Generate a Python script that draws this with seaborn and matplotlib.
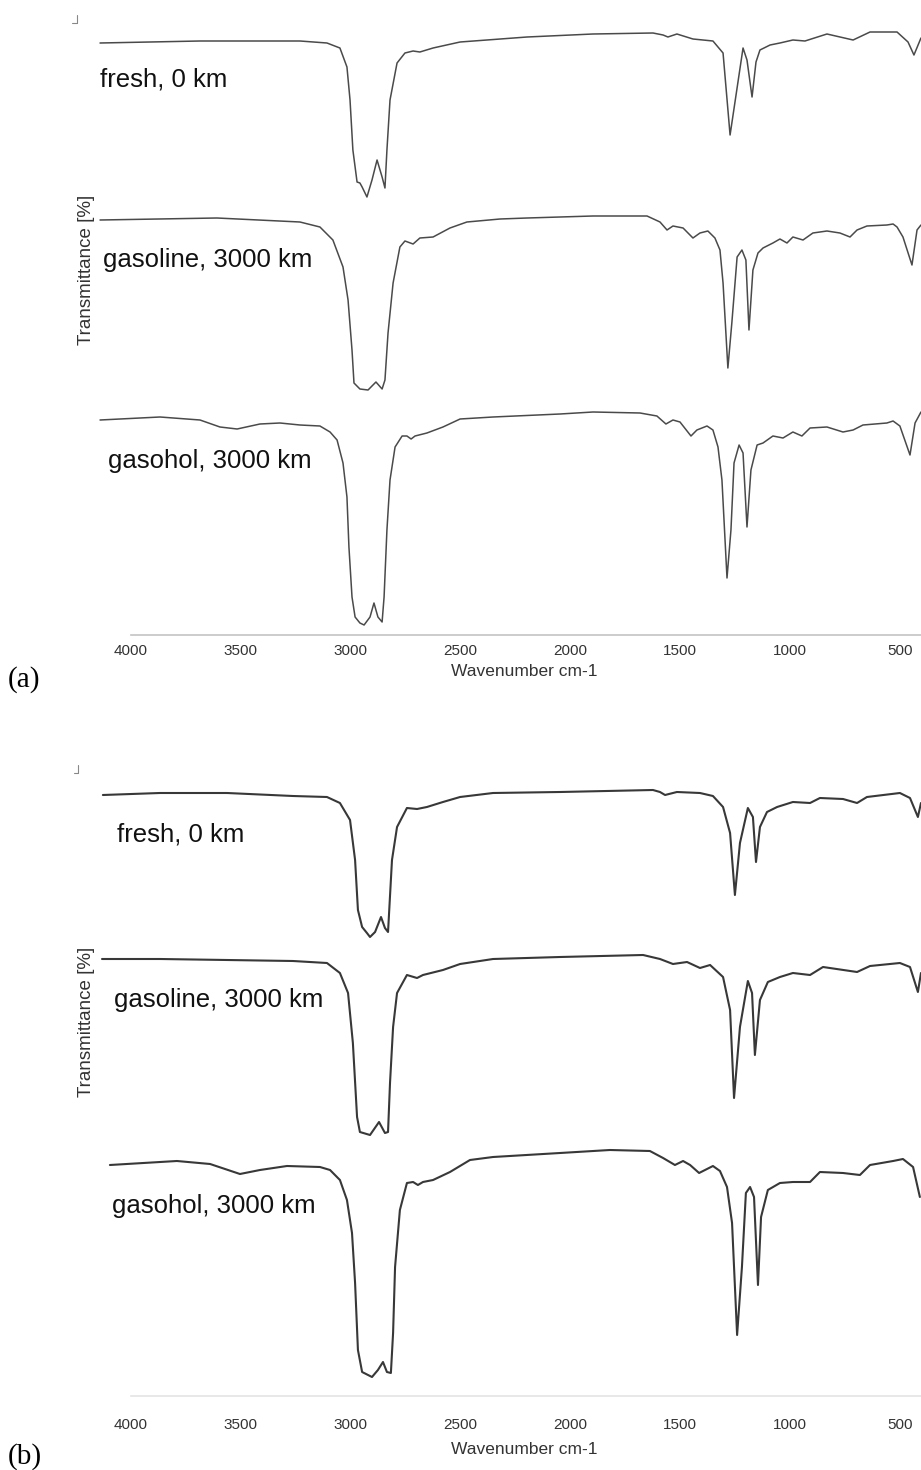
import matplotlib
matplotlib.use("Agg")
import matplotlib.pyplot as plt
from matplotlib import font_manager
from matplotlib.lines import Line2D
import seaborn as sns
import pandas as pd

# ---------------- data ----------------
TICKS = [4000, 3500, 3000, 2500, 2000, 1500, 1000, 500]
TICK_LABELS = ["4000", "3500", "3000", "2500", "2000", "1500", "1000", "500"]
LABELS = ["fresh, 0 km", "gasoline, 3000 km", "gasohol, 3000 km"]

A_FRESH_W = [4141, 3686, 3231, 3108, 3049, 3017, 3003, 2990, 2971, 2958, 2948, 2926, 2903, 2880, 2857,
             2844, 2835, 2821, 2789, 2753, 2716, 2685, 2625, 2502, 2197, 1897, 1624, 1578, 1556, 1515,
             1442, 1351, 1305, 1273, 1214, 1196, 1173, 1155, 1137, 1091, 1046, 987, 932, 832, 713,
             636, 513, 463, 436, 404]
A_FRESH_T = [93.6, 94.4, 94.4, 93.6, 91.6, 84.0, 70.8, 50.8, 38.0, 37.6, 36.0, 32.0, 38.8, 46.8, 40.0,
             35.6, 50.8, 70.8, 85.6, 89.6, 90.4, 90.0, 91.6, 94.0, 96.0, 97.2, 97.6, 96.8, 96.0, 97.2,
             95.2, 94.4, 89.6, 56.8, 91.6, 86.8, 72.0, 86.0, 90.8, 92.8, 93.6, 94.8, 94.4, 97.2, 94.8,
             98.0, 98.0, 94.0, 88.8, 95.6]

A_GASOLINE_W = [4141, 3609, 3231, 3140, 3081, 3035, 3012, 2994, 2985, 2958, 2921, 2885, 2857, 2844, 2830,
                2807, 2776, 2753, 2716, 2685, 2625, 2548, 2471, 2320, 2197, 1897, 1651, 1592, 1560, 1533,
                1487, 1442, 1410, 1374, 1342, 1319, 1305, 1283, 1265, 1241, 1219, 1201, 1187, 1169, 1146,
                1123, 1078, 1046, 1014, 987, 941, 896, 832, 773, 727, 695, 650, 559, 531, 513,
                486, 445, 422, 404]
A_GASOLINE_T = [95.2, 96.0, 94.4, 92.4, 87.2, 76.4, 63.2, 43.2, 30.0, 27.6, 27.2, 30.4, 27.6, 31.2, 50.0,
                70.0, 84.4, 86.8, 85.6, 88.0, 88.4, 92.0, 94.4, 95.6, 96.0, 96.8, 96.8, 94.4, 91.2, 92.8,
                92.0, 88.0, 90.0, 90.8, 88.0, 83.2, 70.0, 36.0, 54.0, 80.4, 83.2, 79.2, 51.2, 75.2, 82.0,
                84.0, 86.0, 87.6, 86.0, 88.4, 87.2, 90.0, 90.8, 90.0, 88.4, 91.2, 92.8, 93.2, 93.6, 92.4,
                88.4, 77.2, 91.2, 93.2]

A_GASOHOL_W = [4141, 3868, 3686, 3595, 3517, 3413, 3322, 3231, 3140, 3094, 3062, 3035, 3017, 3008, 2994,
               2980, 2958, 2939, 2912, 2894, 2876, 2857, 2848, 2835, 2821, 2798, 2766, 2744, 2725, 2707,
               2653, 2580, 2502, 2352, 2047, 1897, 1683, 1606, 1565, 1533, 1501, 1451, 1424, 1378, 1351,
               1328, 1310, 1287, 1269, 1255, 1232, 1214, 1196, 1178, 1150, 1123, 1078, 1032, 987, 946,
               909, 832, 759, 713, 668, 559, 531, 500, 454, 431, 404]
A_GASOHOL_T = [94.0, 95.2, 94.0, 91.2, 90.4, 92.4, 92.8, 92.0, 91.6, 89.2, 86.0, 76.8, 63.2, 43.2, 23.2,
               15.2, 12.8, 12.0, 15.2, 20.8, 15.2, 13.2, 23.2, 50.0, 70.0, 83.2, 87.6, 87.6, 86.4, 87.6,
               88.8, 91.2, 94.4, 95.2, 96.4, 97.2, 96.8, 95.6, 92.4, 94.0, 93.2, 87.6, 90.0, 91.6, 90.0,
               83.2, 70.0, 30.8, 50.0, 76.8, 84.0, 80.8, 51.2, 74.0, 84.0, 84.8, 87.6, 86.8, 89.2, 87.6,
               90.8, 91.2, 89.2, 90.0, 92.0, 92.8, 93.6, 91.6, 80.0, 92.8, 97.2]

B_FRESH_W = [4128, 3868, 3563, 3263, 3108, 3049, 3003, 2980, 2967, 2948, 2926, 2912, 2889, 2862, 2844,
             2830, 2812, 2789, 2744, 2698, 2653, 2580, 2502, 2352, 2047, 1624, 1592, 1569, 1515, 1410,
             1351, 1305, 1273, 1251, 1228, 1192, 1169, 1155, 1137, 1105, 1059, 987, 909, 864, 759,
             695, 650, 500, 454, 418, 404]
B_FRESH_T = [95.6, 96.4, 96.4, 95.2, 94.8, 92.4, 85.6, 69.6, 49.6, 42.8, 40.4, 38.8, 40.8, 46.8, 42.4,
             40.8, 69.6, 82.8, 90.4, 90.0, 90.8, 92.8, 94.8, 96.4, 96.8, 97.6, 96.8, 95.6, 96.8, 96.4,
             95.2, 90.8, 80.4, 55.6, 76.4, 90.4, 86.8, 68.8, 82.8, 88.8, 90.8, 92.8, 92.4, 94.4, 94.0,
             92.4, 94.8, 96.4, 94.4, 86.8, 92.4]

B_GASOLINE_W = [4132, 3868, 3563, 3263, 3108, 3049, 3012, 2990, 2971, 2958, 2912, 2871, 2844, 2830, 2821,
                2807, 2789, 2744, 2698, 2671, 2580, 2502, 2352, 2047, 1669, 1592, 1533, 1469, 1410, 1364,
                1305, 1273, 1255, 1228, 1192, 1173, 1160, 1137, 1101, 1046, 987, 909, 850, 695, 636,
                500, 454, 418, 404]
B_GASOLINE_T = [95.6, 95.6, 95.2, 94.8, 94.0, 90.0, 82.0, 62.0, 32.4, 26.4, 25.2, 30.4, 26.0, 26.4, 46.0,
                68.4, 82.0, 89.2, 88.0, 89.2, 91.2, 93.6, 95.6, 96.4, 97.2, 95.6, 93.6, 94.4, 92.0, 93.2,
                88.4, 75.2, 40.0, 68.4, 86.8, 82.0, 57.2, 79.2, 86.4, 88.4, 90.0, 89.2, 92.4, 90.4, 92.8,
                94.0, 92.4, 82.4, 90.0]

B_GASOHOL_W = [4096, 3791, 3640, 3504, 3413, 3290, 3140, 3094, 3049, 3017, 2994, 2980, 2967, 2948, 2903,
               2876, 2853, 2835, 2817, 2807, 2798, 2776, 2744, 2716, 2694, 2671, 2625, 2548, 2457, 2352,
               2047, 1820, 1638, 1578, 1524, 1487, 1455, 1414, 1351, 1319, 1287, 1264, 1241, 1219, 1201,
               1182, 1164, 1146, 1132, 1101, 1046, 987, 909, 864, 759, 682, 636, 531, 486, 440, 409]
B_GASOHOL_T = [91.2, 92.8, 91.6, 87.6, 89.2, 90.8, 90.4, 89.2, 85.2, 77.2, 64.0, 44.0, 17.2, 8.4, 6.4,
               9.2, 12.4, 8.4, 8.0, 24.0, 50.4, 73.2, 84.0, 84.4, 83.2, 84.4, 85.2, 88.4, 93.2, 94.4,
               96.0, 97.2, 96.8, 94.0, 91.2, 92.8, 91.2, 88.0, 90.8, 88.8, 82.4, 68.0, 23.2, 50.4, 80.0,
               82.4, 78.4, 43.2, 70.4, 81.2, 84.0, 84.4, 84.4, 88.4, 88.0, 87.2, 91.2, 92.8, 93.6, 90.4, 78.4]

# vertical stacking offsets of the spectra (in transmittance units)
A_OFFSETS = [0.0, 72.4, 151.2]
B_OFFSETS = [0.0, 65.6, 143.6]

# ---------------- styling ----------------
sns.set_style("white")
names = {f.name for f in font_manager.fontManager.ttflist}
SANS = "Liberation Sans" if "Liberation Sans" in names else "DejaVu Sans"
NARROW = "Liberation Sans Narrow" if "Liberation Sans Narrow" in names else SANS
SERIF = "Liberation Serif" if "Liberation Serif" in names else "DejaVu Serif"
plt.rcParams["font.family"] = [SANS, "DejaVu Sans"]

W, H = 921, 1470
fig = plt.figure(figsize=(W / 100, H / 100), dpi=100)


def fx(px):
    return px / W


def fy(py):
    return 1 - py / H


XLIM = (4163.9, 403.9)


def panel(top, bottom, ylim, series, offsets, color, lw, spine_color, tick_pad):
    ax = fig.add_axes([fx(95), fy(bottom), fx(921 - 95), (bottom - top) / H])
    for (w, t), off in zip(series, offsets):
        df = pd.DataFrame({"w": w, "t": [v - off for v in t]})
        sns.lineplot(data=df, x="w", y="t", ax=ax, color=color, lw=lw,
                     estimator=None, sort=True, legend=False)
    ax.set_xlim(*XLIM)
    ax.set_ylim(*ylim)
    for s in ["top", "left", "right"]:
        ax.spines[s].set_visible(False)
    ax.spines["bottom"].set_color(spine_color)
    ax.spines["bottom"].set_linewidth(1.2)
    ax.spines["bottom"].set_bounds(4000, XLIM[1])
    ax.set_yticks([])
    ax.set_xticks(TICKS)
    ax.set_xticklabels(TICK_LABELS, fontfamily=NARROW, fontsize=11, color="#333333")
    ax.tick_params(axis="x", direction="inout", length=5, width=0.8,
                   color=spine_color, pad=tick_pad)
    ax.set_xlabel("")
    ax.set_ylabel("")
    ax.patch.set_alpha(0)
    return ax


panel(10, 635, (-143.2, 106.8),
      [(A_FRESH_W, A_FRESH_T), (A_GASOLINE_W, A_GASOLINE_T), (A_GASOHOL_W, A_GASOHOL_T)],
      A_OFFSETS, "#4a4a4a", 1.1, "#c4c4c4", 4)
panel(770, 1396, (-144.8, 105.6),
      [(B_FRESH_W, B_FRESH_T), (B_GASOLINE_W, B_GASOLINE_T), (B_GASOHOL_W, B_GASOHOL_T)],
      B_OFFSETS, "#383838", 1.5, "#e4e4e4", 13)

# series labels
for (x, y), lab in zip([(100, 87), (103, 267), (108, 468)], LABELS):
    fig.text(fx(x), fy(y), lab, fontsize=18.5, color="#111111", va="baseline", ha="left")
for (x, y), lab in zip([(117, 842), (114, 1007), (112, 1213)], LABELS):
    fig.text(fx(x), fy(y), lab, fontsize=18.5, color="#111111", va="baseline", ha="left")

# axis titles
for yc in (270, 1022):
    fig.text(fx(86), fy(yc), "Transmittance [%]", rotation=90, fontsize=13.5,
             color="#333333", ha="center", va="center")
for yc in (671, 1449):
    fig.text(fx(524), fy(yc), "Wavenumber cm-1", fontfamily=NARROW, fontsize=12.5,
             color="#333333", ha="center", va="center")

# panel letters
fig.text(fx(8), fy(680), "(a)", fontfamily=SERIF, fontsize=21, color="#000000",
         ha="left", va="center")
fig.text(fx(8), fy(1457), "(b)", fontfamily=SERIF, fontsize=21, color="#000000",
         ha="left", va="center")

# small corner marks
for (xv, y0, y1, xh) in [(77, 15, 23, 72), (78, 765, 773, 74)]:
    fig.add_artist(Line2D([fx(xv), fx(xv)], [fy(y0), fy(y1)], color="#888888", lw=0.8))
    fig.add_artist(Line2D([fx(xh), fx(xv)], [fy(y1), fy(y1)], color="#888888", lw=0.8))

fig.savefig("out.png", dpi=100)
